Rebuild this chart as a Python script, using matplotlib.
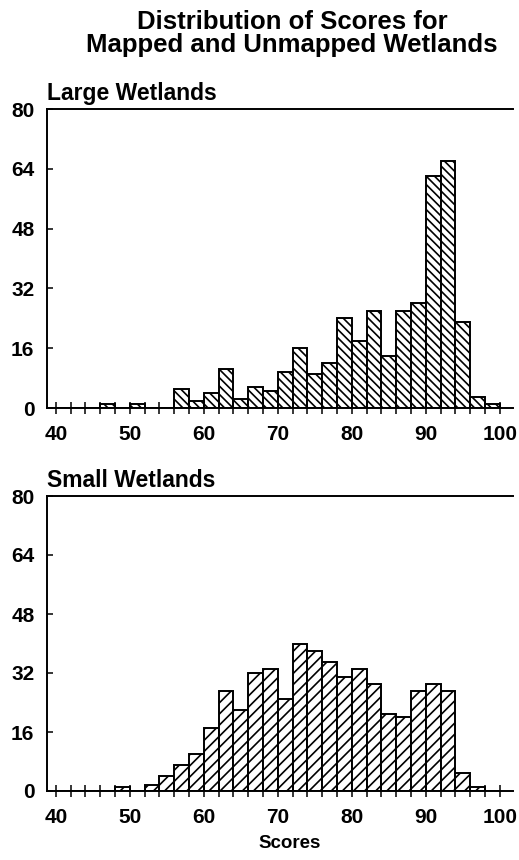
import matplotlib
matplotlib.use("Agg")
import matplotlib.pyplot as plt
from matplotlib.ticker import MultipleLocator, FixedLocator

plt.rcParams['font.family'] = ['Liberation Sans', 'DejaVu Sans']
plt.rcParams['font.weight'] = 'bold'
plt.rcParams['hatch.linewidth'] = 1.2

# left edge of each 2-point score bin
bin_left = [40, 42, 44, 46, 48, 50, 52, 54, 56, 58, 60, 62, 64, 66, 68,
            70, 72, 74, 76, 78, 80, 82, 84, 86, 88, 90, 92, 94, 96, 98]

large_counts = [0, 0, 0, 1, 0, 1, 0, 0, 5, 2, 4, 10.5, 2.5, 5.5, 4.5,
                9.5, 16, 9, 12, 24, 18, 26, 14, 26, 28, 62, 66, 23, 3, 1]

small_counts = [0, 0, 0, 0, 1, 0, 1.5, 4, 7, 10, 17, 27, 22, 32, 33,
                25, 40, 38, 35, 31, 33, 29, 21, 20, 27, 29, 27, 5, 1, 0]

y_ticks = [0, 16, 32, 48, 64, 80]
x_labels = [40, 50, 60, 70, 80, 90, 100]

W, H = 519, 860
fig = plt.figure(figsize=(W / 100, H / 100), dpi=100)

fig.text(292 / W, 1 - 10 / H, "Distribution of Scores for\nMapped and Unmapped Wetlands",
         ha='center', va='top', fontsize=18.5, fontweight='bold', linespacing=0.95)


def panel(top_px, bottom_px, counts, hatch, title):
    ax = fig.add_axes([47 / W, 1 - bottom_px / H, (513 - 47) / W, (bottom_px - top_px) / H])
    ax.bar(bin_left, counts, width=2, align='edge', color='white',
           edgecolor='black', linewidth=1.4, hatch=hatch)
    ax.set_xlim(38.8, 101.8)
    ax.set_ylim(0, 80)
    ax.spines['right'].set_visible(False)
    for s in ['left', 'top', 'bottom']:
        ax.spines[s].set_linewidth(1.4)
    ax.xaxis.set_major_locator(FixedLocator(x_labels))
    ax.xaxis.set_minor_locator(MultipleLocator(2))
    ax.set_xticklabels([str(v) for v in x_labels])
    ax.tick_params(axis='x', which='both', direction='inout', length=8, width=1.1,
                   labelsize=15, pad=8)
    ax.set_yticks(y_ticks)
    ax.tick_params(axis='y', direction='in', length=4, width=1.1, labelsize=15, pad=9)
    for lab in ax.get_xticklabels() + ax.get_yticklabels():
        lab.set_fontweight('bold')
    ax.text(0.0, 1.015, title, transform=ax.transAxes, ha='left', va='bottom',
            fontsize=16.5, fontweight='bold')
    return ax


panel(109, 408, large_counts, '\\\\\\\\', "Large Wetlands")
panel(496, 791, small_counts, '///', "Small Wetlands")

fig.text(290 / W, 1 - 844 / H, "Scores", ha='center', va='center',
         fontsize=13.5, fontweight='bold')

fig.savefig("out.png", dpi=100)
